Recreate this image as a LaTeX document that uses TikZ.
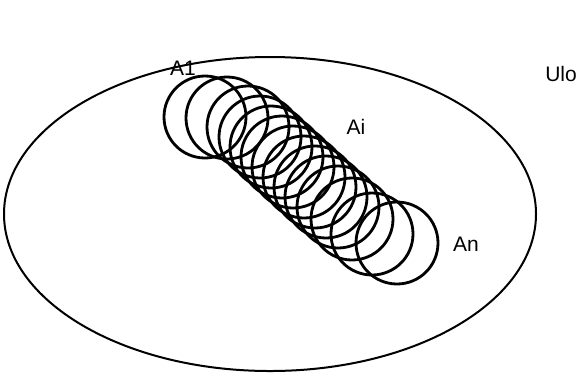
\documentclass[tikz,border=0pt]{standalone}
\usepackage{fontspec}
\setmainfont{Liberation Sans}
\begin{document}
\begin{tikzpicture}[x=1pt,y=-1pt,
  setlabel/.style={font=\fontsize{21}{25}\selectfont, inner sep=0pt},
  setcircle/.style={line width=2.8pt}]
\useasboundingbox (0,0) rectangle (585,376);
% universe
\draw[line width=2pt] (270,214) ellipse [x radius=266, y radius=157];
% chain of sets, steeper in the middle
\foreach \cx/\cy in {205/117,227/118,248/127,260/137,271/147,282/157,293/167,
    304/177,315/187,326/197,338/207,352/219,372/234,397/243}
  \draw[setcircle] (\cx,\cy) circle [radius=41];
\node[setlabel] (a1) at (183,68) {A1};
\node[setlabel] (ai) at (356,127) {Ai};
\node[setlabel] (an) at (466,244) {An};
\node[setlabel] (ulo) at (561,74) {Ulo};
\end{tikzpicture}
\end{document}
